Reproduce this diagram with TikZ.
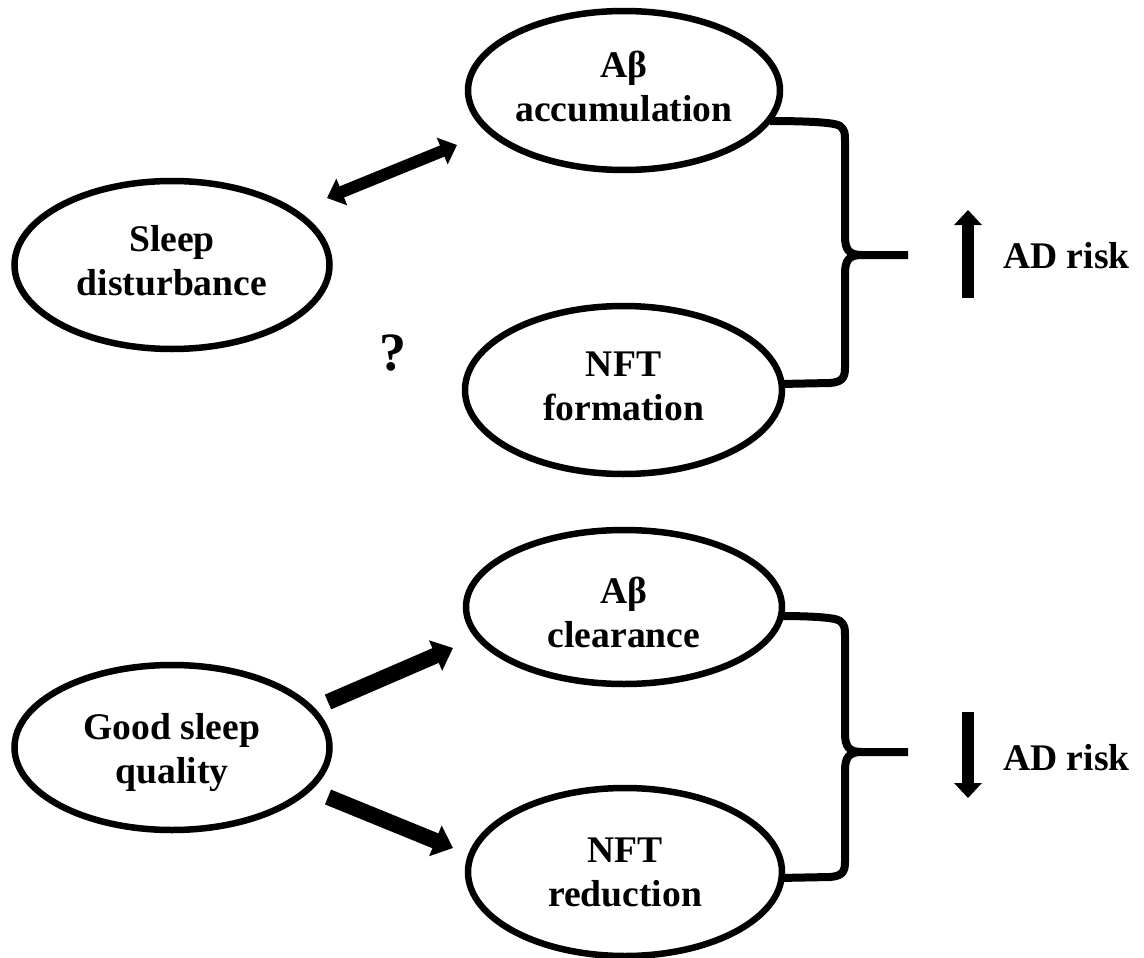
\documentclass[tikz,border=0pt]{standalone}
\usepackage{fontspec}
\setmainfont{Liberation Serif}
\usetikzlibrary{shapes.geometric,arrows.meta}
\newcommand\lbl{\fontsize{37.6}{44}\selectfont\bfseries}
\newcommand\toprule[1]{\rule{0pt}{#1}}
\newcommand\botrule[1]{\rule[-#1]{0pt}{#1}}
\begin{document}
\begin{tikzpicture}[x=1pt,y=-1pt,
  ell/.style={draw, ellipse, line width=6.5pt, inner sep=0pt, align=center, font=\lbl},
  dblarrow/.style={line width=12pt, {Triangle[width=28pt,length=16pt]}-{Triangle[width=28pt,length=16pt]}},
  fatarrow/.style={line width=16pt, -{Triangle[width=32pt,length=19pt]}},
  riskarrow/.style={line width=12pt, -{Triangle[width=27pt,length=15pt]}},
  brace/.style={line width=8pt, line join=round},
  risk/.style={font=\lbl, anchor=base west, inner sep=0pt}
]
\useasboundingbox (0,0) rectangle (1144,958);

% ellipses
\node[ell, minimum width=315pt, minimum height=168pt] (sd) at (172,265) {\strut Sleep\\disturbance\strut};
\node[ell, minimum width=312pt, minimum height=159pt] (aa) at (624,90.5) {\strut Aβ\\accumulation\strut};
\node[ell, minimum width=317pt, minimum height=168pt] (nf) at (623.5,390) {\strut NFT\\formation\strut};
\node[ell, minimum width=315pt, minimum height=165pt] (gs) at (172,747.5) {\toprule{36.8pt}Good sleep\\quality\botrule{7.2pt}};
\node[ell, minimum width=316pt, minimum height=154pt] (ac) at (624,607) {\toprule{40.8pt}Aβ\\clearance\botrule{3.2pt}};
\node[ell, minimum width=314pt, minimum height=168pt] (nr) at (625,872) {\toprule{34.5pt}NFT\\reduction\botrule{9.5pt}};

% question mark
\node[font=\fontsize{54}{60}\selectfont\bfseries, anchor=base, inner sep=0pt] (q) at (393,370) {?};

% arrows
\coordinate (d1) at (327,198);
\coordinate (d2) at (457,145);
\draw[dblarrow] (d1) -- (d2);

\coordinate (g1) at (328,702);
\coordinate (g2) at (453,648);
\draw[fatarrow] (g1) -- (g2);
\coordinate (g3) at (328,797);
\coordinate (g4) at (453,848);
\draw[fatarrow] (g3) -- (g4);

% upper brace
\draw[brace] (770,121) .. controls (800,121) and (835,122) .. (840,126) .. controls (845,130) and (845,134) .. (845,140) -- (845,236) .. controls (845,250) and (849,255) .. (862,255) -- (908,255);
\draw[brace] (862,255) .. controls (849,255) and (845,260) .. (845,274) -- (845,368) .. controls (845,378) and (842,382) .. (830,383) -- (780,384);

% lower brace
\draw[brace] (779,616) .. controls (805,616) and (835,617) .. (840,621) .. controls (845,625) and (845,629) .. (845,635) -- (845,733) .. controls (845,747) and (849,752) .. (862,752) -- (908,752);
\draw[brace] (862,752) .. controls (849,752) and (845,757) .. (845,771) -- (845,862) .. controls (845,872) and (842,876) .. (830,877) -- (779,878);

% risk arrows and labels
\coordinate (u1) at (968,298);
\coordinate (u2) at (968,210);
\draw[riskarrow] (u1) -- (u2);
\node[risk] (r1) at (1003,268) {AD risk};

\coordinate (v1) at (968,712);
\coordinate (v2) at (968,798);
\draw[riskarrow] (v1) -- (v2);
\node[risk] (r2) at (1003,770) {AD risk};
\end{tikzpicture}
\end{document}
